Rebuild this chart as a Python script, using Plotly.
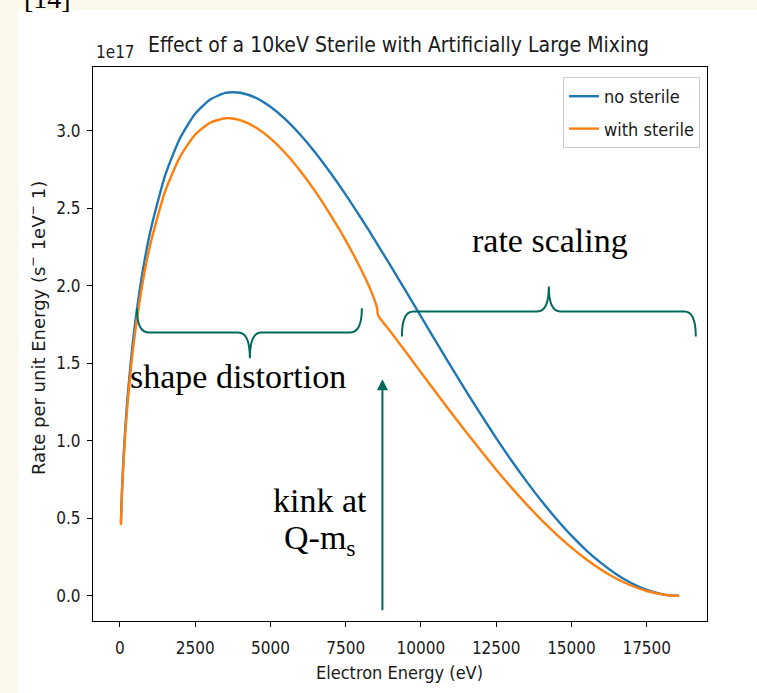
import plotly.graph_objects as go

# ---------------- data ----------------
energy_ev = [33, 60, 100, 175, 250, 375, 500, 750, 1000, 1500, 2000, 2500, 3000,
             3500, 3750, 4000, 4500, 5000, 5500, 6000, 6500, 7000, 7500, 8000,
             8250, 8400, 8500, 8550, 8575, 9000, 9500, 10000, 10500, 11000,
             11500, 12000, 12500, 13000, 13500, 14000, 14500, 15000, 15500,
             16000, 16500, 17000, 17500, 18000, 18300, 18575]

no_sterile = [0.473, 0.636, 0.817, 1.072, 1.271, 1.536, 1.750, 2.086, 2.343, 2.712,
              2.954, 3.111, 3.203, 3.245, 3.250, 3.246, 3.215, 3.156, 3.075, 2.974,
              2.858, 2.728, 2.589, 2.440, 2.364, 2.317, 2.286, 2.270, 2.262, 2.127,
              1.966, 1.803, 1.640, 1.479, 1.321, 1.167, 1.018, 0.875, 0.740, 0.613,
              0.496, 0.388, 0.292, 0.209, 0.138, 0.081, 0.038, 0.011, 0.003, 0.0]

with_sterile = [0.458, 0.615, 0.791, 1.038, 1.230, 1.486, 1.692, 2.014, 2.260, 2.609,
                2.834, 2.976, 3.053, 3.082, 3.080, 3.069, 3.024, 2.952, 2.856, 2.740,
                2.607, 2.457, 2.294, 2.111, 2.009, 1.939, 1.885, 1.848, 1.810, 1.702,
                1.573, 1.442, 1.312, 1.183, 1.057, 0.934, 0.814, 0.700, 0.592, 0.490,
                0.397, 0.311, 0.234, 0.167, 0.110, 0.065, 0.031, 0.009, 0.002, 0.0]

series_names = ["no sterile", "with sterile"]
x_ticks = [0, 2500, 5000, 7500, 10000, 12500, 15000, 17500]
y_ticks = [0.0, 0.5, 1.0, 1.5, 2.0, 2.5, 3.0]

# ---------------- styles ----------------
BLUE = "#1f77b4"
ORANGE = "#ff7f0e"
TEAL = "#00695c"
CREAM = "#fdf8ec"
SANS = "DejaVu Sans Condensed, Liberation Sans Narrow, DejaVu Sans, sans-serif"
SERIF = "Liberation Serif, DejaVu Serif, serif"
INK = "#1a1a1a"

W, H = 757, 693
ML, MR, MT, MB = 93, 50, 67, 72
PW, PH = W - ML - MR, H - MT - MB


def px_x(px):
    return (px - ML) / PW


def px_y(py):
    return (H - MB - py) / PH


fig = go.Figure()
fig.add_trace(go.Scatter(x=energy_ev, y=no_sterile, mode="lines", name=series_names[0],
                         legendgroup="a",
                         line=dict(color=BLUE, width=2.4, shape="spline", smoothing=0.6)))
fig.add_trace(go.Scatter(x=energy_ev, y=with_sterile, mode="lines", name=series_names[1],
                         legendgroup="b",
                         line=dict(color=ORANGE, width=2.4, shape="spline", smoothing=0.6)))

axis_common = dict(showgrid=False, zeroline=False, showline=True, linecolor="black",
                   linewidth=1.2, mirror=True, ticks="outside", ticklen=5,
                   tickcolor="black", tickfont=dict(family=SANS, size=17, color=INK))
fig.update_xaxes(range=[-894, 19502], tickvals=x_ticks,
                 ticktext=[str(v) for v in x_ticks], ticklabelstandoff=6, **axis_common)
fig.update_yaxes(range=[-0.1625, 3.4125], tickvals=y_ticks,
                 ticktext=[f"{v:.1f}" for v in y_ticks], ticklabelstandoff=3, **axis_common)


def brace_path(x0, x1, xm, y_end, y_mid, y_tip, dx):
    return (f"M {x0},{y_end} Q {x0},{y_mid} {x0 + dx},{y_mid} "
            f"L {xm - dx},{y_mid} Q {xm},{y_mid} {xm},{y_tip} "
            f"Q {xm},{y_mid} {xm + dx},{y_mid} "
            f"L {x1 - dx},{y_mid} Q {x1},{y_mid} {x1},{y_end}")


shapes = [
    # white figure area over the cream page
    dict(type="rect", xref="paper", yref="paper", x0=px_x(18), x1=px_x(W + 5),
         y0=px_y(H + 5), y1=px_y(10), fillcolor="white", line=dict(width=0),
         layer="below"),
    dict(type="path", xref="x", yref="y",
         path=brace_path(565, 8037, 4317, 1.855, 1.70, 1.533, 380),
         line=dict(color=TEAL, width=2)),
    dict(type="path", xref="x", yref="y",
         path=brace_path(9366, 19130, 14248, 1.674, 1.835, 1.996, 380),
         line=dict(color=TEAL, width=2)),
]

annotations = [
    dict(text="Effect of a 10keV Sterile with Artificially Large Mixing", xref="paper",
         yref="paper", x=px_x(398), y=px_y(45), showarrow=False,
         font=dict(family=SANS, size=21, color=INK), xanchor="center", yanchor="middle"),
    dict(text="1e17", xref="paper", yref="paper", x=px_x(94), y=px_y(52), showarrow=False,
         font=dict(family=SANS, size=17, color=INK), xanchor="left", yanchor="middle"),
    dict(text="Electron Energy (eV)", xref="paper", yref="paper", x=px_x(399), y=px_y(672),
         showarrow=False, font=dict(family=SANS, size=18, color=INK),
         xanchor="center", yanchor="middle"),
    dict(text="Rate per unit Energy (s<sup>\u2212</sup> 1eV<sup>\u2212</sup> 1)", xref="paper",
         yref="paper", x=px_x(37), y=px_y(328), textangle=-90, showarrow=False,
         font=dict(family="DejaVu Sans", size=18, color=INK),
         xanchor="center", yanchor="middle"),
    dict(text="rate scaling", xref="x", yref="y", x=14281, y=2.292, showarrow=False,
         font=dict(family=SERIF, size=34, color="black"), xanchor="center", yanchor="middle"),
    dict(text="shape distortion", xref="x", yref="y", x=3919, y=1.417, showarrow=False,
         font=dict(family=SERIF, size=34, color="black"), xanchor="center", yanchor="middle"),
    dict(text="kink at", xref="x", yref="y", x=6642, y=0.618, showarrow=False,
         font=dict(family=SERIF, size=34, color="black"), xanchor="center", yanchor="middle"),
    dict(text="Q-m<sub>s</sub>", xref="x", yref="y", x=6642, y=0.36, showarrow=False,
         font=dict(family=SERIF, size=34, color="black"), xanchor="center", yanchor="middle"),
    # arrow pointing at the kink
    dict(text="", xref="x", yref="y", axref="x", ayref="y", x=8720, y=1.397,
         ax=8720, ay=-0.103, showarrow=True, arrowhead=2, arrowsize=1.1,
         arrowwidth=2, arrowcolor=TEAL),
    dict(text="[14]", xref="paper", yref="paper", x=px_x(22), y=px_y(16), showarrow=False,
         font=dict(family=SERIF, size=28, color="black"), xanchor="left", yanchor="bottom"),
]

fig.update_layout(
    width=W, height=H,
    margin=dict(l=ML, r=MR, t=MT, b=MB, pad=0),
    paper_bgcolor=CREAM, plot_bgcolor="white",
    shapes=shapes, annotations=annotations,
    legend=dict(x=px_x(700), y=px_y(77), xanchor="right", yanchor="top",
                bgcolor="white", bordercolor="#cccccc", borderwidth=1,
                font=dict(family=SANS, size=18, color=INK),
                itemwidth=30, tracegroupgap=6),
    showlegend=True,
)

fig.write_html("out.html")
